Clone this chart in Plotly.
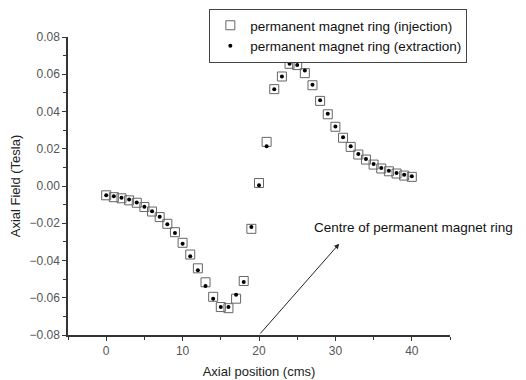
import plotly.graph_objects as go

positions = list(range(0, 41))
injection = [-0.005, -0.006, -0.0066, -0.0077, -0.009, -0.0113, -0.0137, -0.0167, -0.0203, -0.0248,
             -0.0305, -0.0368, -0.0442, -0.0517, -0.0595, -0.065, -0.0656, -0.0605, -0.051, -0.023,
             0.0016, 0.0237, 0.052, 0.0588, 0.0656, 0.0649, 0.0606, 0.0541, 0.0457, 0.0385,
             0.0318, 0.0259, 0.021, 0.0169, 0.0142, 0.0115, 0.0094, 0.0079, 0.0067, 0.0056, 0.0049]
extraction = [-0.005, -0.0055, -0.0063, -0.0073, -0.0088, -0.0111, -0.0135, -0.0165, -0.0205, -0.0252,
              -0.031, -0.0377, -0.0452, -0.0537, -0.0605, -0.065, -0.065, -0.0584, -0.0515, -0.022,
              0.0004, 0.0214, 0.052, 0.0588, 0.0656, 0.0649, 0.062, 0.0544, 0.046, 0.0388,
              0.032, 0.0262, 0.0213, 0.0172, 0.0145, 0.0118, 0.0097, 0.0082, 0.007, 0.006, 0.0052]

FONT = "Liberation Sans, Arial, sans-serif"

fig = go.Figure()
fig.add_trace(go.Scatter(x=positions, y=injection, mode="markers",
                         name="permanent magnet ring (injection)",
                         marker=dict(symbol="square-open", size=9, color="#666666", line=dict(width=1))))
fig.add_trace(go.Scatter(x=positions, y=extraction, mode="markers",
                         name="permanent magnet ring (extraction)",
                         marker=dict(symbol="circle", size=4, color="#000000")))

fig.add_annotation(x=30.5, y=-0.031, ax=20, ay=-0.08, axref="x", ayref="y", xref="x", yref="y",
                   text="", showarrow=True, arrowhead=2, arrowsize=1, arrowwidth=1, arrowcolor="#222222")
fig.add_annotation(x=26.9, y=-0.0221, xref="x", yref="y", text="Centre of permanent magnet ring",
                   showarrow=False, xanchor="left", yanchor="middle",
                   font=dict(family=FONT, size=13.5, color="#111111"))

fig.update_layout(
    width=518, height=372,
    margin=dict(l=60, r=76, t=29, b=45, autoexpand=False),
    paper_bgcolor="white", plot_bgcolor="white",
    font=dict(family=FONT, color="#222222"),
    showlegend=True,
    legend=dict(x=0.37, y=1.094, xanchor="left", yanchor="top",
                bordercolor="#444444", borderwidth=1, bgcolor="white",
                font=dict(family=FONT, size=13.5, color="#111111"),
                tracegroupgap=0),
)
fig.update_xaxes(range=[-5, 45], tickvals=[0, 10, 20, 30, 40], ticks="outside", ticklen=4,
                 showline=True, linecolor="#333333", linewidth=1.5, tickcolor="#333333",
                 showgrid=False, zeroline=False,
                 minor=dict(tickvals=[-5, 5, 15, 25, 35, 45], ticks="outside", ticklen=3, tickcolor="#333333"),
                 tickfont=dict(family=FONT, size=12, color="#555555"),
                 title=dict(text="Axial position (cms)", font=dict(family=FONT, size=13, color="#222222"), standoff=10))
fig.update_yaxes(range=[-0.08, 0.08], tickvals=[-0.08, -0.06, -0.04, -0.02, 0, 0.02, 0.04, 0.06, 0.08],
                 tickformat=".2f", ticks="outside", ticklen=4,
                 showline=True, linecolor="#333333", linewidth=1.5, tickcolor="#333333",
                 showgrid=False, zeroline=False,
                 minor=dict(tickvals=[-0.07, -0.05, -0.03, -0.01, 0.01, 0.03, 0.05, 0.07], ticks="outside", ticklen=3, tickcolor="#333333"),
                 tickfont=dict(family=FONT, size=12, color="#555555"),
                 title=dict(text="Axial Field (Tesla)", font=dict(family=FONT, size=13, color="#222222"), standoff=6))

fig.write_html("out.html")
